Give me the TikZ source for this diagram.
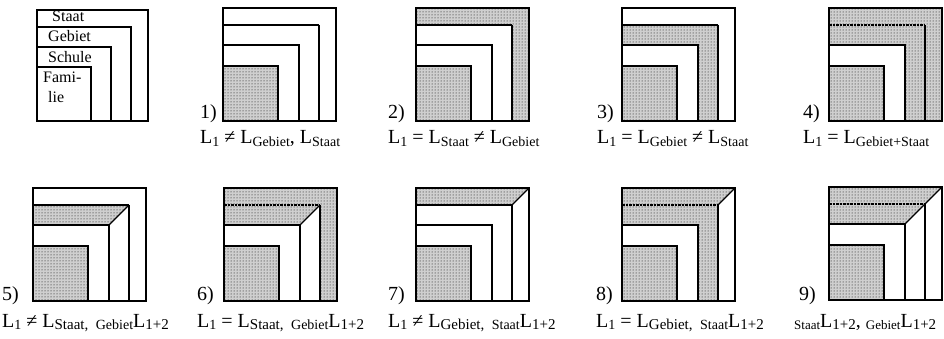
\documentclass[tikz,border=0pt]{standalone}
\usepackage{fontspec}
\setmainfont{Liberation Serif}
\usetikzlibrary{patterns}
\tikzset{
  stip/.style={preaction={fill=gray!38}, pattern=dots, pattern color=black},
  ln/.style={line width=1.2pt, line join=miter},
  dln/.style={line width=1.9pt, dash pattern=on 2.5pt off 1pt},
  leg/.style={anchor=base west, inner sep=0pt, font=\fontsize{16}{16}\selectfont},
  num/.style={anchor=base west, inner sep=0pt, font=\fontsize{20}{20}\selectfont},
  frm/.style={anchor=base west, inner sep=0pt, font=\fontsize{20}{20}\selectfont},
}
\newcommand{\lsub}[1]{\raisebox{-2.5pt}{\fontsize{14}{14}\selectfont #1}}
\newcommand{\lsubb}[1]{\raisebox{-2.5pt}{\fontsize{15}{15}\selectfont #1}}
\newcommand{\lssub}[1]{\raisebox{-2.5pt}{\fontsize{14}{14}\selectfont #1}}
\newcommand{\lsssub}[1]{\raisebox{-2.5pt}{\fontsize{13}{13}\selectfont #1}}
% regions (panel coordinates: origin bottom-left, y downwards)
\newcommand{\rFam}{\path[stip] (0,0) rectangle (55,-55);}
\newcommand{\rStF}{\path[stip] (0,-113) -- (113,-113) -- (113,0) -- (96,0) -- (96,-96) -- (0,-96) -- cycle;}
\newcommand{\rStT}{\path[stip] (0,-113) -- (113,-113) -- (96,-96) -- (0,-96) -- cycle;}
\newcommand{\rGeF}{\path[stip] (0,-96) -- (96,-96) -- (96,0) -- (76,0) -- (76,-76) -- (0,-76) -- cycle;}
\newcommand{\rGeT}{\path[stip] (0,-96) -- (96,-96) -- (76,-76) -- (0,-76) -- cycle;}
\newcommand{\dSt}{\draw[ln] (113,-113) -- (96,-96);}
\newcommand{\dGe}{\draw[ln] (96,-96) -- (76,-76);}
% base lines; #1 = style of the Gebiet top line
\newcommand{\baseL}[1]{%
  \draw[ln] (0,0) rectangle (113,-113);
  \draw[#1] (0,-96) -- (96,-96);
  \draw[ln] (96,-96) -- (96,0);
  \draw[ln] (0,-76) -- (76,-76) -- (76,0);
  \draw[ln] (0,-55) -- (55,-55) -- (55,0);
}
\begin{document}
\begin{tikzpicture}[x=1pt,y=-1pt]
\useasboundingbox (0,0) rectangle (944,339);

% legend
\begin{scope}[shift={(37,121)}]
  \draw[ln] (0,0) rectangle (111,-111);
  \draw[ln] (0,-94) -- (94,-94) -- (94,0);
  \draw[ln] (0,-74) -- (74,-74) -- (74,0);
  \draw[ln] (0,-54) -- (54,-54) -- (54,0);
\end{scope}
\node[leg] (lS) at (52,22) {Staat};
\node[leg] (lG) at (48,42) {Gebiet};
\node[leg] (lSc) at (48,63) {Schule};
\node[leg] (lF1) at (43,83) {Fami-};
\node[leg] (lF2) at (48,103) {lie};

% panel 1
\begin{scope}[shift={(223,121)}]
  \rFam \baseL{ln}
\end{scope}
\node[num] (n1) at (200,119) {1)};
\node[frm] (f1) at (200,144) {L\lsub{1} ≠ L\lsub{Gebiet}, L\lsub{Staat}};

% panel 2
\begin{scope}[shift={(416,121)}]
  \rFam \rStF \baseL{ln}
\end{scope}
\node[num] (n2) at (388,119) {2)};
\node[frm] (f2) at (388,144) {L\lsub{1} = L\lsub{Staat} ≠ L\lsub{Gebiet}};

% panel 3
\begin{scope}[shift={(622,121)}]
  \rFam \rGeF \baseL{ln}
\end{scope}
\node[num] (n3) at (597,119) {3)};
\node[frm] (f3) at (597,144) {L\lsub{1} = L\lsub{Gebiet} ≠ L\lsub{Staat}};

% panel 4
\begin{scope}[shift={(829,121)}]
  \rFam \rStF \rGeF \baseL{dln}
\end{scope}
\node[num] (n4) at (803,119) {4)};
\node[frm] (f4) at (803,144) {L\lsub{1} = L\lsub{Gebiet+Staat}};

% panel 5
\begin{scope}[shift={(33,301)}]
  \rFam \rGeT \baseL{ln} \dGe
\end{scope}
\node[num] (n5) at (2,300) {5)};
\node[frm] (f5) at (2,327) {L\lsub{1} ≠ L\lsubb{Staat,\ \ }\lssub{Gebiet}L\lsubb{1+2}};

% panel 6
\begin{scope}[shift={(224,301)}]
  \rFam \rStF \rGeT \baseL{dln} \dGe
\end{scope}
\node[num] (n6) at (197,300) {6)};
\node[frm] (f6) at (197,327) {L\lsub{1} = L\lsubb{Staat,\ \ }\lssub{Gebiet}L\lsubb{1+2}};

% panel 7
\begin{scope}[shift={(416,301)}]
  \rFam \rStT \baseL{ln} \dSt
\end{scope}
\node[num] (n7) at (388,300) {7)};
\node[frm] (f7) at (388,327) {L\lsub{1} ≠ L\lsubb{Gebiet,\ \ }\lssub{Staat}L\lsubb{1+2}};

% panel 8
\begin{scope}[shift={(622,301)}]
  \rFam \rStT \rGeF \baseL{dln} \dSt
\end{scope}
\node[num] (n8) at (596,300) {8)};
\node[frm] (f8) at (596,327) {L\lsub{1} = L\lsubb{Gebiet,\ \ }\lssub{Staat}L\lsubb{1+2}};

% panel 9
\begin{scope}[shift={(829,300)}]
  \rFam \rStT \rGeT \baseL{dln} \dSt \dGe
\end{scope}
\node[num] (n9) at (799,300) {9)};
\node[frm] (f9) at (794,327) {\lsssub{Staat}L\lsubb{1+2}, \lsssub{Gebiet}L\lsubb{1+2}};
\end{tikzpicture}
\end{document}
